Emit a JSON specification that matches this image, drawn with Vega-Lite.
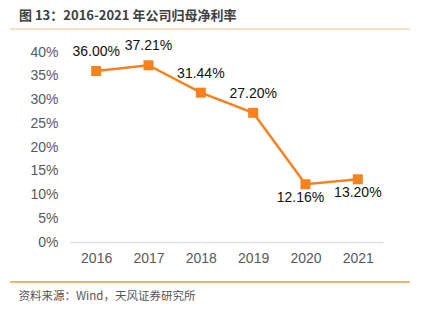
{
  "$schema": "https://vega.github.io/schema/vega-lite/v6.json",
  "autosize": {"type": "none"},
  "padding": {"left": 70, "top": 52, "right": 40, "bottom": 79},
  "width": 314,
  "height": 190,
  "background": "white",
  "config": {
    "view": {"stroke": null},
    "font": "Liberation Sans"
  },
  "title": {
    "text": "图 13：2016-2021 年公司归母净利率",
    "anchor": "start",
    "frame": "group",
    "dx": -51,
    "offset": 5,
    "font": "Noto Sans CJK SC",
    "fontSize": 13,
    "fontWeight": "bold",
    "color": "#404040"
  },
  "data": {
    "values": [
      {"year": "2016", "rate": 0.36},
      {"year": "2017", "rate": 0.3721},
      {"year": "2018", "rate": 0.3144},
      {"year": "2019", "rate": 0.272},
      {"year": "2020", "rate": 0.1216},
      {"year": "2021", "rate": 0.132}
    ]
  },
  "encoding": {
    "x": {
      "field": "year",
      "type": "ordinal",
      "scale": {"type": "point", "padding": 0.5},
      "axis": {
        "labelAngle": 0,
        "labelFontSize": 14,
        "labelColor": "#595959",
        "labelPadding": 9,
        "ticks": false,
        "domainColor": "#e0e0e0",
        "domainWidth": 1.5,
        "grid": false,
        "title": "资料来源：Wind，天风证券研究所",
        "titleFont": "Noto Sans CJK SC",
        "titleFontSize": 11.5,
        "titleFontWeight": "normal",
        "titleColor": "#555555",
        "titleX": -52,
        "titleY": 54,
        "titleAlign": "left",
        "titleBaseline": "middle",
        "titleAnchor": "start"
      }
    },
    "y": {
      "field": "rate",
      "type": "quantitative",
      "scale": {"domain": [0, 0.4], "nice": false},
      "axis": {
        "format": ".0%",
        "values": [0, 0.05, 0.1, 0.15, 0.2, 0.25, 0.3, 0.35, 0.4],
        "labelFontSize": 14,
        "labelColor": "#595959",
        "labelPadding": 12,
        "ticks": false,
        "domain": false,
        "grid": false,
        "title": null
      }
    }
  },
  "layer": [
    {
      "mark": {"type": "line", "color": "#f5821f", "strokeWidth": 2.5}
    },
    {
      "mark": {"type": "square", "color": "#f5821f", "size": 100, "opacity": 1, "filled": true}
    },
    {
      "transform": [{"filter": "datum.rate > 0.2"}],
      "mark": {"type": "text", "dy": -19, "fontSize": 14, "color": "#111111", "baseline": "middle"},
      "encoding": {"text": {"field": "rate", "type": "quantitative", "format": ".2%"}}
    },
    {
      "transform": [{"filter": "datum.year == '2020'"}],
      "mark": {"type": "text", "dy": 14, "dx": -5, "fontSize": 14, "color": "#111111", "baseline": "middle"},
      "encoding": {"text": {"field": "rate", "type": "quantitative", "format": ".2%"}}
    },
    {
      "transform": [{"filter": "datum.year == '2021'"}],
      "mark": {"type": "text", "dy": 14, "fontSize": 14, "color": "#111111", "baseline": "middle"},
      "encoding": {"text": {"field": "rate", "type": "quantitative", "format": ".2%"}}
    },
    {
      "data": {"values": [{}]},
      "mark": {"type": "rule", "color": "#fbd3b0", "strokeWidth": 1.5},
      "encoding": {"x": {"value": -60}, "x2": {"value": 340}, "y": {"value": -23}}
    },
    {
      "data": {"values": [{}]},
      "mark": {"type": "rule", "color": "#f39a3c", "strokeWidth": 1.5},
      "encoding": {"x": {"value": -60}, "x2": {"value": 340}, "y": {"value": 230}}
    }
  ]
}
